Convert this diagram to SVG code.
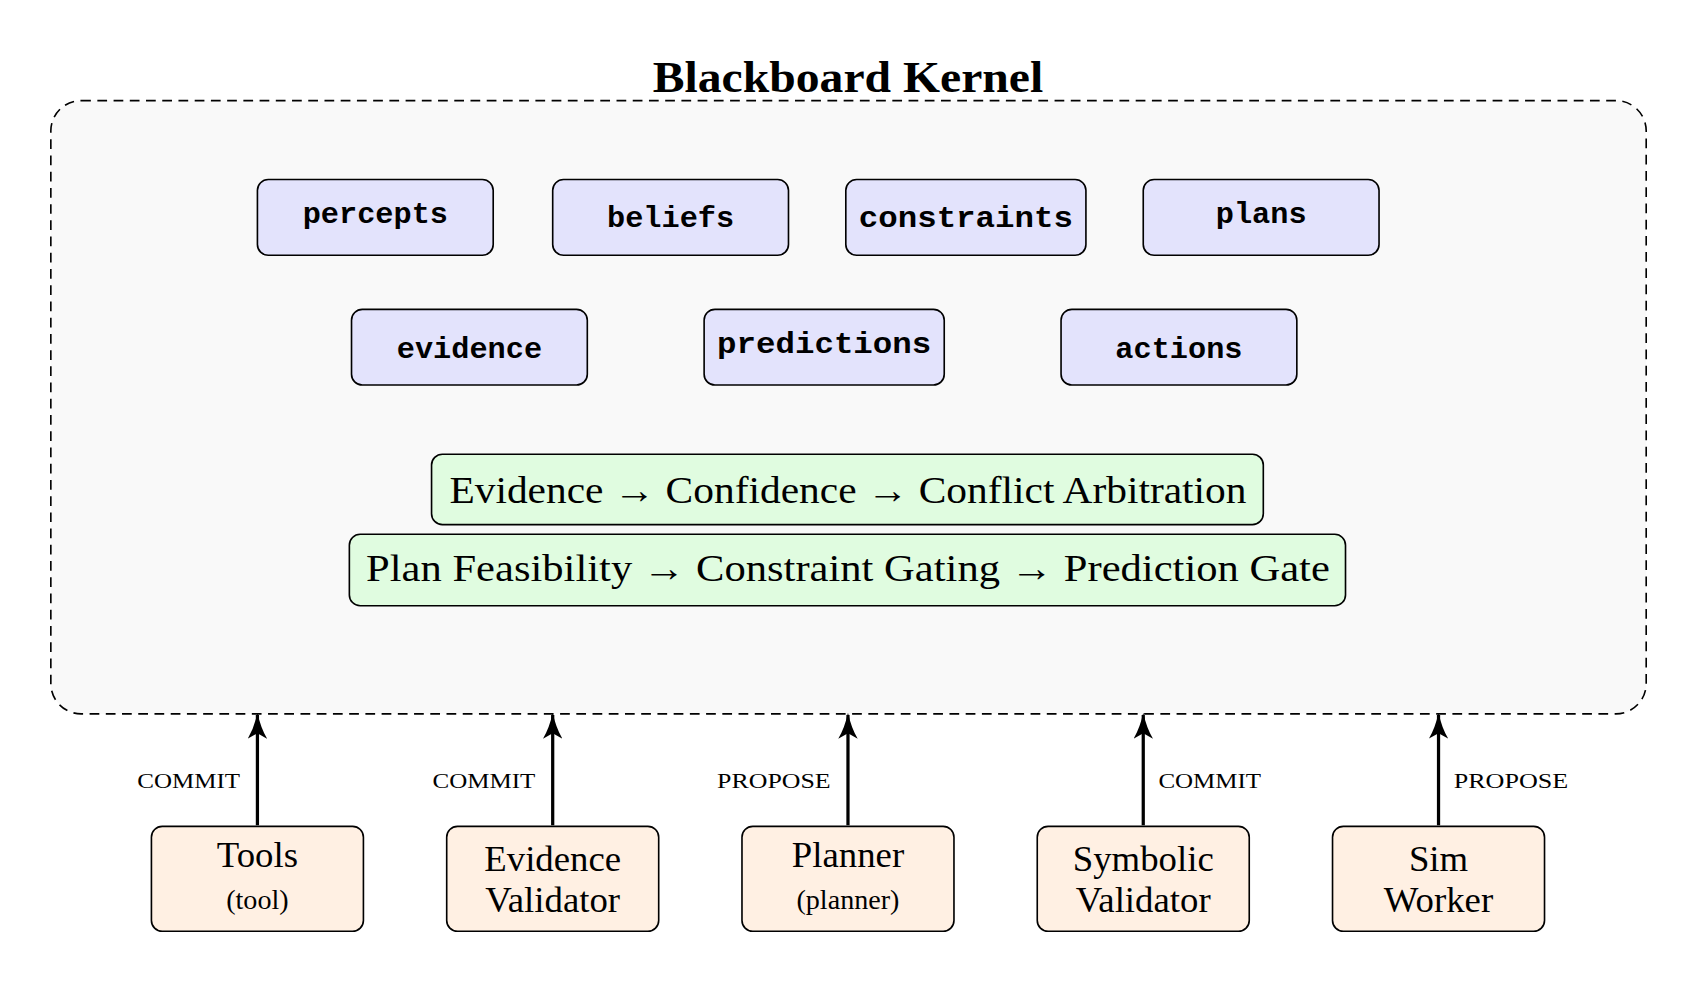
<svg xmlns="http://www.w3.org/2000/svg" width="1696" height="983" viewBox="0 0 1696 983">
<defs>
<style>
.mem{fill:#e3e3fc;stroke:#000;stroke-width:1.5}
.mt{font-family:"Liberation Mono",monospace;font-weight:bold;font-size:28px;text-anchor:middle}
.gate{fill:#e0fce0;stroke:#000;stroke-width:1.5}
.gt{font-family:"Liberation Serif",serif;font-size:36px;text-anchor:middle}
.ag{fill:#fff0e3;stroke:#000;stroke-width:1.5}
.at{font-family:"Liberation Serif",serif;font-size:34px;text-anchor:middle}
.as{font-family:"Liberation Serif",serif;font-size:26px;text-anchor:middle}
.lb{font-family:"Liberation Serif",serif;font-size:20px}
.ar{stroke:#000;stroke-width:3;fill:none;marker-end:url(#h)}
</style>
<marker id="h" markerWidth="24" markerHeight="18" refX="22" refY="9" orient="auto" markerUnits="userSpaceOnUse" viewBox="0 0 24 18">
<path d="M0,0 Q10,6 24,9 Q10,12 0,18 L5,9 Z" fill="#000"/>
</marker>
</defs>
<rect width="1696" height="983" fill="#fff"/>
<g transform="scale(1.0816)">
<g id="kernel">
<rect x="47" y="93" width="1475" height="567" rx="28" fill="#f9f9f9" stroke="#000" stroke-width="1.5" stroke-dasharray="9,6"/>
<text x="784" y="85" font-family="Liberation Serif,serif" font-weight="bold" font-size="40" text-anchor="middle" textLength="361" lengthAdjust="spacingAndGlyphs">Blackboard Kernel</text>
</g>
<g id="percepts"><rect class="mem" x="238" y="166" width="218" height="70" rx="10"/><text class="mt" x="347" y="206">percepts</text></g>
<g id="beliefs"><rect class="mem" x="511" y="166" width="218" height="70" rx="10"/><text class="mt" x="620" y="210">beliefs</text></g>
<g id="constraints"><rect class="mem" x="782" y="166" width="222" height="70" rx="10"/><text class="mt" x="893" y="210" textLength="198" lengthAdjust="spacingAndGlyphs">constraints</text></g>
<g id="plans"><rect class="mem" x="1057" y="166" width="218" height="70" rx="10"/><text class="mt" x="1166" y="206">plans</text></g>
<g id="evidence"><rect class="mem" x="325" y="286" width="218" height="70" rx="10"/><text class="mt" x="434" y="331">evidence</text></g>
<g id="predictions"><rect class="mem" x="651" y="286" width="222" height="70" rx="10"/><text class="mt" x="762" y="326" textLength="198" lengthAdjust="spacingAndGlyphs">predictions</text></g>
<g id="actions"><rect class="mem" x="981" y="286" width="218" height="70" rx="10"/><text class="mt" x="1090" y="331">actions</text></g>
<g id="gate1"><rect class="gate" x="399" y="420" width="769" height="65" rx="10"/><text class="gt" x="784" y="465" textLength="737" lengthAdjust="spacingAndGlyphs">Evidence → Confidence → Conflict Arbitration</text></g>
<g id="gate2"><rect class="gate" x="323" y="494" width="921" height="66" rx="10"/><text class="gt" x="784" y="537" textLength="891" lengthAdjust="spacingAndGlyphs">Plan Feasibility → Constraint Gating → Prediction Gate</text></g>
<g id="connectors">
<line class="ar" x1="238" y1="763" x2="238" y2="661"/>
<line class="ar" x1="511" y1="763" x2="511" y2="661"/>
<line class="ar" x1="784" y1="763" x2="784" y2="661"/>
<line class="ar" x1="1057" y1="763" x2="1057" y2="661"/>
<line class="ar" x1="1330" y1="763" x2="1330" y2="661"/>
<text class="lb" x="222" y="729" text-anchor="end" textLength="95" lengthAdjust="spacingAndGlyphs">COMMIT</text>
<text class="lb" x="495" y="729" text-anchor="end" textLength="95" lengthAdjust="spacingAndGlyphs">COMMIT</text>
<text class="lb" x="768" y="729" text-anchor="end" textLength="105" lengthAdjust="spacingAndGlyphs">PROPOSE</text>
<text class="lb" x="1071" y="729" textLength="95" lengthAdjust="spacingAndGlyphs">COMMIT</text>
<text class="lb" x="1344" y="729" textLength="106" lengthAdjust="spacingAndGlyphs">PROPOSE</text>
</g>
<g id="tools"><rect class="ag" x="140" y="764" width="196" height="97" rx="10"/><text class="at" x="238" y="802">Tools</text><text class="as" x="238" y="840">(tool)</text></g>
<g id="evval"><rect class="ag" x="413" y="764" width="196" height="97" rx="10"/><text class="at" x="511" y="805">Evidence</text><text class="at" x="511" y="843">Validator</text></g>
<g id="planner"><rect class="ag" x="686" y="764" width="196" height="97" rx="10"/><text class="at" x="784" y="802">Planner</text><text class="as" x="784" y="840">(planner)</text></g>
<g id="symval"><rect class="ag" x="959" y="764" width="196" height="97" rx="10"/><text class="at" x="1057" y="805">Symbolic</text><text class="at" x="1057" y="843">Validator</text></g>
<g id="sim"><rect class="ag" x="1232" y="764" width="196" height="97" rx="10"/><text class="at" x="1330" y="805">Sim</text><text class="at" x="1330" y="843">Worker</text></g>
</g>
</svg>
